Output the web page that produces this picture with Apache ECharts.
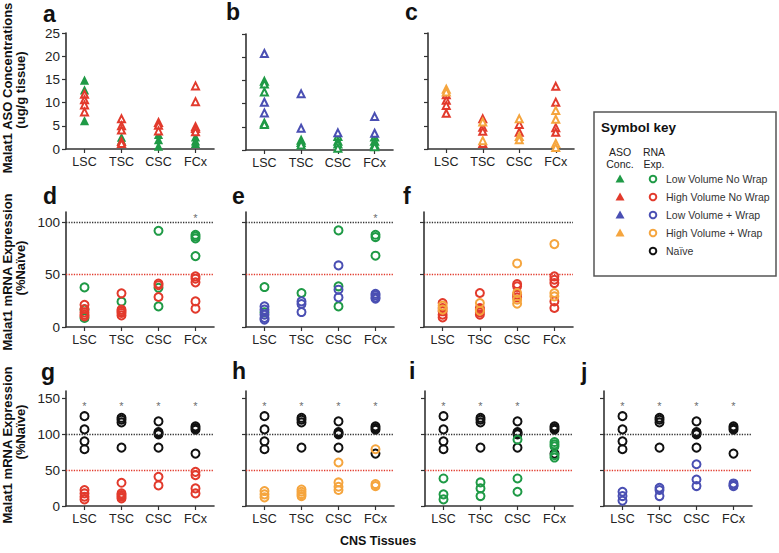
<!DOCTYPE html>
<html><head><meta charset="utf-8">
<script src="https://cdn.jsdelivr.net/npm/echarts@6/dist/echarts.min.js"></script>
<style>html,body{margin:0;padding:0;background:#fff}#c{width:779px;height:553px}</style>
</head><body><div id="c"></div>
<script>
const categories = ['LSC','TSC','CSC','FCx'];
// ASO concentration panels (ug/g tissue), one inner array per tissue
const aGreen = [[14.7,12.6,6.0],[2.4,1.8],[3.0,1.9,0.5],[2.5,1.6,1.1]];
const aRed   = [[11.8,10.6,9.5,8.0],[6.5,5.0,4.1,1.6,1.2],[5.7,5.1,3.9],[13.6,10.2,4.8,4.4,3.7]];
const bGreen = [[14.8,14.2,12.5,5.8,5.5],[2.1,1.6,1.1],[2.9,1.9,1.3,0.4],[2.8,1.9,1.2,0.7]];
const bBlue  = [[20.8,10.3,8.0],[12.1,4.7],[3.7],[7.2,3.6]];
const cOrange= [[12.9,12.3],[5.8,1.8],[6.5,2.7,2.0],[8.3,6.4,1.2,0.3]];
const cRed   = [[11.7,10.5,9.4,7.7],[6.5,4.7,3.8,1.2],[5.3,3.6],[13.5,10.1,4.6,3.6]];
// mRNA expression panels (% naive)
const dGreen = [[37.9,16.6,8.6],[24.2],[92,37.5,19.7],[88.2,86.6,84.7,67.8]];
const dRed   = [[21.3,17.2,14,11.8,10.2],[32.2,16.6,15,13.4,11.1],[41.5,40,28.7],[48.4,46.2,42.7,24.5,17.5]];
const eGreen = [[38.2,14],[32.5],[92.4,38.9,19.7],[88.2,86,68.2]];
const eBlue  = [[19.7,16.6,11.8,8.6,7],[24.5,22,14.3],[58.9,35.7,28.3],[31.8,30.3,28.3,27]];
const fRed   = [[22.9,18.2,15,11.8,9.2],[32.5,18.2,16.6,14,11.8],[41.1,38.9,30.9,28.3],[48.4,45.2,42,24.5,18.2]];
const fOrange= [[20.4,16.6],[22.9,15.6],[60.8,32.5,26.1,22.3],[79.3,32.5,29.3]];
const naive  = [[125,106.6,90,79],[122.7,120,116.3,81.2],[117.7,103,101.5,99.7,81.2],[110.8,108.4,106.1,72.9]];
const gRed   = [[22.2,17.5,12.9,9.2],[32.3,17.5,15.2,12.9,10.6],[40.6,28.6],[47.5,42.9,24.5,17.5]];
const hOrange= [[20.8,16.2,12],[23,19.8,16.6,13.8],[60.5,32.8,26.8,22.2],[79,30.5,27.7]];
const iGreen = [[38.3,16.2,9.2],[32.8,24.5,13.8],[92.3,38.3,19.8],[89,85.8,83,70.6,67.4]];
const jBlue  = [[19.8,13.8,7.4],[25.4,22.2,13.8],[58.1,36.9,27.7],[31.4,29,27.7]];
// significance stars (category indices)
const starsD = [3], starsE = [3], starsF = [];
const starsG = [0,1,2,3], starsH = [0,1,2,3], starsI = [0,1,2], starsJ = [0,1,2,3];
const starLevelMid = 104, starLevelBot = 139;
const refLines = [100, 50];
const ticksASO = [0,5,10,15,20,25], ticksMid = [0,50,100], ticksBot = [0,50,100,150];
const legendItems = ['Low Volume No Wrap','High Volume No Wrap','Low Volume + Wrap','High Volume + Wrap','Naïve'];

const C = {green:'#1f9a46', red:'#e23a2c', blue:'#4a4fb3', orange:'#f5a53e', black:'#111111'};
const FONT = 'Liberation Sans, Arial, Helvetica, sans-serif';

const grids = [
  {left:66, top:33, width:148, height:116},
  {left:246, top:34, width:147, height:116},
  {left:428, top:33, width:146, height:116},
  {left:66, top:212, width:148, height:115},
  {left:246, top:212, width:148, height:115},
  {left:424, top:212, width:149, height:115},
  {left:66, top:391, width:148, height:115},
  {left:246, top:391, width:148, height:115},
  {left:425, top:391, width:148, height:115},
  {left:604, top:391, width:148, height:115}
];
const axisLine = {show:true, lineStyle:{color:'#333', width:1.6}};
const xAxes = grids.map((g,i)=>({type:'category', gridIndex:i, data:categories,
  axisLine, axisTick:{show:true, alignWithLabel:true, length:4, lineStyle:{color:'#333', width:1.2}},
  axisLabel:{color:'#222', fontSize:12.5, fontFamily:FONT, margin:6}, splitLine:{show:false}}));
const yAxes = grids.map((g,i)=>{
  const top = i<3 ? 0 : (i<6 ? 1 : 2);
  const max = [25,110,160][top];
  const ticks = [ticksASO, ticksMid, ticksBot][top];
  const showLab = (i===0 || i===3 || i===6);
  return {type:'value', gridIndex:i, min:0, max:max, interval: top===0?5:50,
    axisLine, splitLine:{show:false},
    axisTick:{show:true, length:4, lineStyle:{color:'#333', width:1.2}, customValues:ticks},
    axisLabel:{show:showLab, color:'#222', fontSize:13.5, fontFamily:FONT, margin:6, customValues:ticks}};
});

function pts(arr){ const out=[]; arr.forEach((vals,i)=>vals.forEach(v=>out.push([i,v]))); return out; }
function tri(idx, arr, color, filled){
  return {type:'scatter', xAxisIndex:idx, yAxisIndex:idx, data:pts(arr), symbol:'triangle', symbolSize:filled?6:7,
    itemStyle:{color: filled?color:'#fff', borderColor:color, borderWidth:2, opacity:1}, silent:true, z:3};
}
function circ(idx, arr, color){
  return {type:'scatter', xAxisIndex:idx, yAxisIndex:idx, data:pts(arr), symbol:'circle', symbolSize:8,
    itemStyle:{color:'rgba(255,255,255,0)', borderColor:color, borderWidth:2, opacity:1}, silent:true, z:3};
}
function lines(idx){
  return {type:'scatter', xAxisIndex:idx, yAxisIndex:idx, data:[], silent:true,
    markLine:{silent:true, symbol:'none', label:{show:false}, animation:false,
      data:[{yAxis:refLines[0], lineStyle:{color:'#333', type:'dotted', width:1.3}},
            {yAxis:refLines[1], lineStyle:{color:'#e23a2c', type:'dotted', width:1.3}}]}};
}
function stars(idx, cats, level){
  return {type:'scatter', xAxisIndex:idx, yAxisIndex:idx, data:cats.map(c=>[c,level]), symbolSize:1,
    itemStyle:{color:'rgba(0,0,0,0)'}, silent:true,
    label:{show:true, formatter:'*', position:'inside', fontSize:11, color:'#444', fontFamily:FONT}};
}

const series = [
  tri(0,aGreen,C.green,true), tri(0,aRed,C.red,false),
  tri(1,bGreen,C.green,false), tri(1,bBlue,C.blue,false),
  tri(2,cRed,C.red,false), tri(2,cOrange,C.orange,false),
  lines(3), circ(3,dGreen,C.green), circ(3,dRed,C.red), stars(3,starsD,starLevelMid),
  lines(4), circ(4,eGreen,C.green), circ(4,eBlue,C.blue), stars(4,starsE,starLevelMid),
  lines(5), circ(5,fRed,C.red), circ(5,fOrange,C.orange), stars(5,starsF,starLevelMid),
  lines(6), circ(6,naive,C.black), circ(6,gRed,C.red), stars(6,starsG,starLevelBot),
  lines(7), circ(7,naive,C.black), circ(7,hOrange,C.orange), stars(7,starsH,starLevelBot),
  lines(8), circ(8,naive,C.black), circ(8,iGreen,C.green), stars(8,starsI,starLevelBot),
  lines(9), circ(9,naive,C.black), circ(9,jBlue,C.blue), stars(9,starsJ,starLevelBot)
];

const g = [];
const letters = [['a',43,14],['b',226,12],['c',405,12],['d',43,196],['e',232,196],['f',403,196],['g',41,372],['h',232,371],['i',409,371],['j',581,372]];
letters.forEach(([t,x,y])=>g.push({type:'text', x:x, y:y, style:{text:t, font:'bold 23px '+FONT, fill:'#111', verticalAlign:'middle'}}));
function vtext(t,x,y){ g.push({type:'text', x:x, y:y, rotation:Math.PI/2, style:{text:t, font:'bold 13px '+FONT, fill:'#111', align:'center', verticalAlign:'middle'}}); }
vtext('Malat1 ASO Concentrations',7,88); vtext('(ug/g tissue)',20,90);
vtext('Malat1 mRNA Expression',7,272); vtext('(%Naïve)',20,268);
vtext('Malat1 mRNA Expression',7,445); vtext('(%Naïve)',20,432);
g.push({type:'text', x:378, y:541, style:{text:'CNS Tissues', font:'bold 12.5px '+FONT, fill:'#111', align:'center', verticalAlign:'middle'}});
// legend box
g.push({type:'rect', shape:{x:594, y:112, width:182, height:164}, style:{fill:'#fff', stroke:'#555', lineWidth:1.5}});
g.push({type:'text', x:601, y:127, style:{text:'Symbol key', font:'bold 13.5px '+FONT, fill:'#111', verticalAlign:'middle'}});
[['ASO',620,152],['Conc.',620,164],['RNA',654,152],['Exp.',654,164]].forEach(([t,x,y])=>g.push({type:'text', x:x, y:y, style:{text:t, font:'10.5px '+FONT, fill:'#222', align:'center', verticalAlign:'middle'}}));
const legColors = [C.green, C.red, C.blue, C.orange, C.black];
legendItems.forEach((t,k)=>{
  const y = 179 + k*18;
  if (k<4) g.push({type:'polygon', shape:{points:[[620,y-4.5],[624.5,y+3.5],[615.5,y+3.5]]}, style:{fill:legColors[k]}});
  g.push({type:'circle', shape:{cx:653, cy:y, r:3.3}, style:{fill:'none', stroke:legColors[k], lineWidth:2}});
  g.push({type:'text', x:666, y:y, style:{text:t, font:'10.5px '+FONT, fill:'#333', verticalAlign:'middle'}});
});

const chart = echarts.init(document.getElementById('c'), null, {renderer:'svg', width:779, height:553});
chart.setOption({animation:false, backgroundColor:'#fff', grid:grids, xAxis:xAxes, yAxis:yAxes, series:series, graphic:g});
</script></body></html>
